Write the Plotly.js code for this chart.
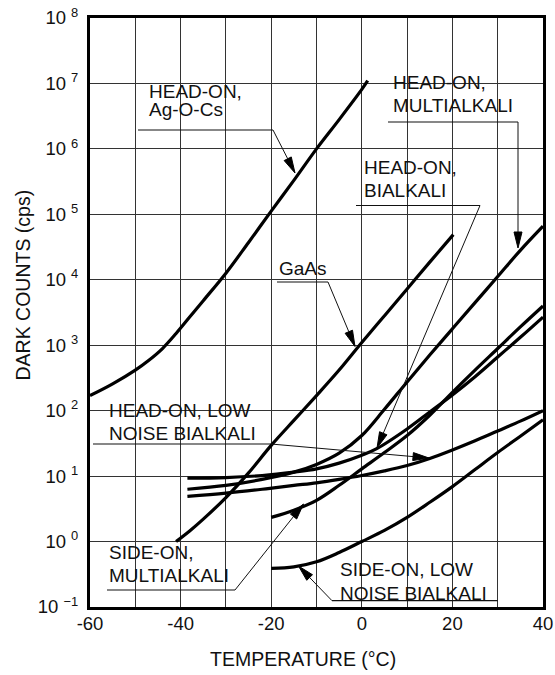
<!DOCTYPE html>
<html><head><meta charset="utf-8">
<script src="https://cdn.plot.ly/plotly-3.0.1.min.js"></script>
<style>html,body{margin:0;padding:0;background:#fff}#chart{width:555px;height:675px}</style>
</head><body><div id="chart"></div>
<script>
// ---- data (temperature in °C, dark counts in cps) ----
const tempAgOCs   = [-60, -55, -50, -47, -44, -41, -38, -35, -30, -25, -20, -15, -10, -5, 0, 1.3];
const countsAgOCs = [170, 257, 417, 590, 890, 1510, 2690, 4790, 12600, 37200, 112000, 330000, 1000000, 2800000, 8100000, 11000000];

const tempGaAs   = [-41, -38, -35, -30, -25, -20, -15, -10, -5, 0, 5, 10, 15, 20.2];
const countsGaAs = [1.0, 1.45, 2.2, 4.7, 11.2, 29.5, 71, 170, 417, 1100, 2820, 7240, 18600, 49000];

const tempHeadMulti   = [-38.5, -30, -22, -15, -10, -5, 0, 5, 10, 15, 20, 25, 30, 35, 40];
const countsHeadMulti = [6.3, 7.2, 8.9, 11.5, 15.1, 22.4, 41.7, 105, 275, 708, 1780, 4470, 11200, 28200, 66000];

const tempHeadBi   = [-38.5, -30, -22, -15, -10, -5, 0, 3.3, 10, 15, 20, 25, 30, 35, 40];
const countsHeadBi = [9.3, 9.5, 10.2, 11.5, 12.9, 15.8, 20.9, 26.3, 52.5, 95.5, 174, 331, 661, 1320, 2690];

const tempHeadLNBi   = [-38.5, -30, -22, -15, -10, -5, 0, 5, 10, 15, 20, 25, 30, 35, 40];
const countsHeadLNBi = [4.9, 5.5, 6.3, 7.2, 7.9, 8.9, 10.2, 12, 14.5, 18.6, 25.1, 34.7, 49, 69.2, 100];

const tempSideMulti   = [-20, -15, -10, -5, 0, 5, 10, 15, 20, 25, 30, 35, 40];
const countsSideMulti = [2.34, 3.02, 4.27, 7.24, 12.9, 22.9, 41.7, 85.1, 191, 417, 891, 1905, 3980];

const tempSideLNBi   = [-20, -15, -10, -5, 0, 5, 10, 15, 20, 25, 30, 35, 40];
const countsSideLNBi = [0.39, 0.41, 0.49, 0.68, 1.0, 1.48, 2.34, 3.98, 6.92, 12.6, 22.9, 40.7, 72.4];

const xTickVals = [-60, -40, -20, 0, 20, 40];
const xTickText = ['-60', '-40', '-20', '0', '20', '40'];
const xMinorVals = [-50, -30, -10, 10, 30];
const yTickVals = [0.1, 1, 10, 100, 1e3, 1e4, 1e5, 1e6, 1e7, 1e8];
const yTickText = ['10 <sup>\u22121</sup>', '10 <sup>0</sup>', '10 <sup>1</sup>', '10 <sup>2</sup>', '10 <sup>3</sup>',
                   '10 <sup>4</sup>', '10 <sup>5</sup>', '10 <sup>6</sup>', '10 <sup>7</sup>', '10 <sup>8</sup>'];

const xTitle = 'TEMPERATURE (\u00B0C)';
const yTitle = 'DARK COUNTS (cps)';

// ---- layout helpers (pixel -> paper) ----
const PL = 90, PR = 543, PT = 18, PB = 607;
const fx = p => (p - PL) / (PR - PL);
const fy = p => (PB - p) / (PB - PT);
const FONT = 'Liberation Sans, Arial, Helvetica, sans-serif';

const series = [
  [tempAgOCs, countsAgOCs], [tempGaAs, countsGaAs], [tempHeadMulti, countsHeadMulti],
  [tempHeadBi, countsHeadBi], [tempHeadLNBi, countsHeadLNBi], [tempSideMulti, countsSideMulti],
  [tempSideLNBi, countsSideLNBi]
];
const traces = series.map(s => ({
  x: s[0], y: s[1], type: 'scatter', mode: 'lines',
  line: {color: '#000', width: 3.2, shape: 'spline', smoothing: 1},
  hoverinfo: 'skip', showlegend: false
}));

const shapes = [];
function box(x0, y0, x1, y1) {
  shapes.push({type: 'rect', xref: 'paper', yref: 'paper', x0: fx(x0), x1: fx(x1), y0: fy(y1), y1: fy(y0),
    fillcolor: '#fff', line: {width: 0}, layer: 'between'});
}
function seg(x0, y0, x1, y1, w) {
  shapes.push({type: 'line', xref: 'paper', yref: 'paper', x0: fx(x0), y0: fy(y0), x1: fx(x1), y1: fy(y1),
    line: {color: '#111', width: w || 1}, layer: 'above'});
}
function arrow(sx, sy, tx, ty) {
  const dx = tx - sx, dy = ty - sy, len = Math.hypot(dx, dy);
  const ux = dx / len, uy = dy / len;
  const bx = tx - ux * 16, by = ty - uy * 16;
  const px = -uy * 4, py = ux * 4;
  seg(sx, sy, bx, by, 1);
  shapes.push({type: 'path', xref: 'paper', yref: 'paper', layer: 'above',
    path: `M${fx(tx)},${fy(ty)} L${fx(bx + px)},${fy(by + py)} L${fx(bx - px)},${fy(by - py)} Z`,
    fillcolor: '#000', line: {color: '#000', width: 1}});
}
const annotations = [];
function label(text, left, capTop) {
  annotations.push({text: text, xref: 'paper', yref: 'paper', x: fx(left - 1), y: fy(capTop - 6),
    xanchor: 'left', yanchor: 'top', showarrow: false, font: {family: FONT, size: 19, color: '#111'}});
}

// HEAD-ON, Ag-O-Cs
box(134, 76, 272, 130); label('HEAD-ON,', 148, 85); label('Ag-O-Cs', 148, 103);
seg(138, 130, 273, 130, 1.2); arrow(273, 130, 295, 173);
// HEAD-ON, MULTIALKALI
box(385, 70, 520, 122); label('HEAD-ON,', 392, 76); label('MULTIALKALI', 392, 99);
seg(388, 122, 518, 122, 1.2); arrow(518, 122, 518, 248);
// HEAD-ON, BIALKALI
box(356, 152, 480, 205); label('HEAD-ON,', 362.5, 161); label('BIALKALI', 362.5, 184);
seg(356, 205.5, 480, 205.5, 1.2); arrow(480, 205.5, 377, 448);
// GaAs
box(273, 255, 333, 282); label('GaAs', 277.5, 261.5);
seg(277, 282, 328, 282, 1.2); arrow(328, 282, 355, 346.5);
// HEAD-ON, LOW NOISE BIALKALI
box(93, 397, 273, 444); label('HEAD-ON, LOW', 107.5, 404); label('NOISE BIALKALI', 107.5, 427.3);
seg(93, 444, 271, 444, 1.2); arrow(271, 444, 429, 458);
// SIDE-ON, MULTIALKALI
box(100, 543, 240, 590); label('SIDE-ON,', 107.5, 545.7); label('MULTIALKALI', 107.5, 569);
seg(107, 590, 235, 590, 1.2); arrow(235, 590, 303.5, 504);
// SIDE-ON, LOW NOISE BIALKALI
box(332, 552, 496, 601); label('SIDE-ON, LOW', 338.5, 563.3); label('NOISE BIALKALI', 338.5, 586.7);
seg(332, 600.7, 497.7, 600.7, 1.2); arrow(332, 600.7, 298.5, 566);

// axis titles
annotations.push({text: xTitle, xref: 'paper', yref: 'paper', x: fx(302.5), y: fy(659),
  xanchor: 'center', yanchor: 'middle', showarrow: false, font: {family: FONT, size: 19.5, color: '#111'}});
annotations.push({text: yTitle, xref: 'paper', yref: 'paper', x: fx(22.5), y: fy(285), textangle: -90,
  xanchor: 'center', yanchor: 'middle', showarrow: false, font: {family: FONT, size: 19.5, color: '#111'}});

const layout = {
  width: 555, height: 675, autosize: false,
  margin: {l: PL, r: 555 - PR, t: PT, b: 675 - PB, pad: 0},
  paper_bgcolor: '#fff', plot_bgcolor: '#fff',
  font: {family: FONT, size: 18.5, color: '#111'},
  showlegend: false,
  xaxis: {type: 'linear', range: [-60, 40], tickmode: 'array', tickvals: xTickVals, ticktext: xTickText,
    showgrid: true, gridcolor: '#333', gridwidth: 1, zeroline: false,
    minor: {tickmode: 'array', tickvals: xMinorVals, showgrid: true, gridcolor: '#333', gridwidth: 1, ticks: ''},
    showline: true, linecolor: '#000', linewidth: 3, mirror: true,
    ticks: '', ticklabelstandoff: -2, tickfont: {family: FONT, size: 18.5, color: '#111'}},
  yaxis: {type: 'log', range: [-1, 8], tickmode: 'array', tickvals: yTickVals, ticktext: yTickText,
    showgrid: true, gridcolor: '#333', gridwidth: 1, zeroline: false,
    showline: true, linecolor: '#000', linewidth: 3, mirror: true,
    ticks: 'outside', ticklen: 5, tickcolor: 'rgba(0,0,0,0)', tickfont: {family: FONT, size: 18.5, color: '#111'}},
  shapes: shapes,
  annotations: annotations
};

Plotly.newPlot('chart', traces, layout, {displayModeBar: false, staticPlot: true});
</script>
</body></html>
